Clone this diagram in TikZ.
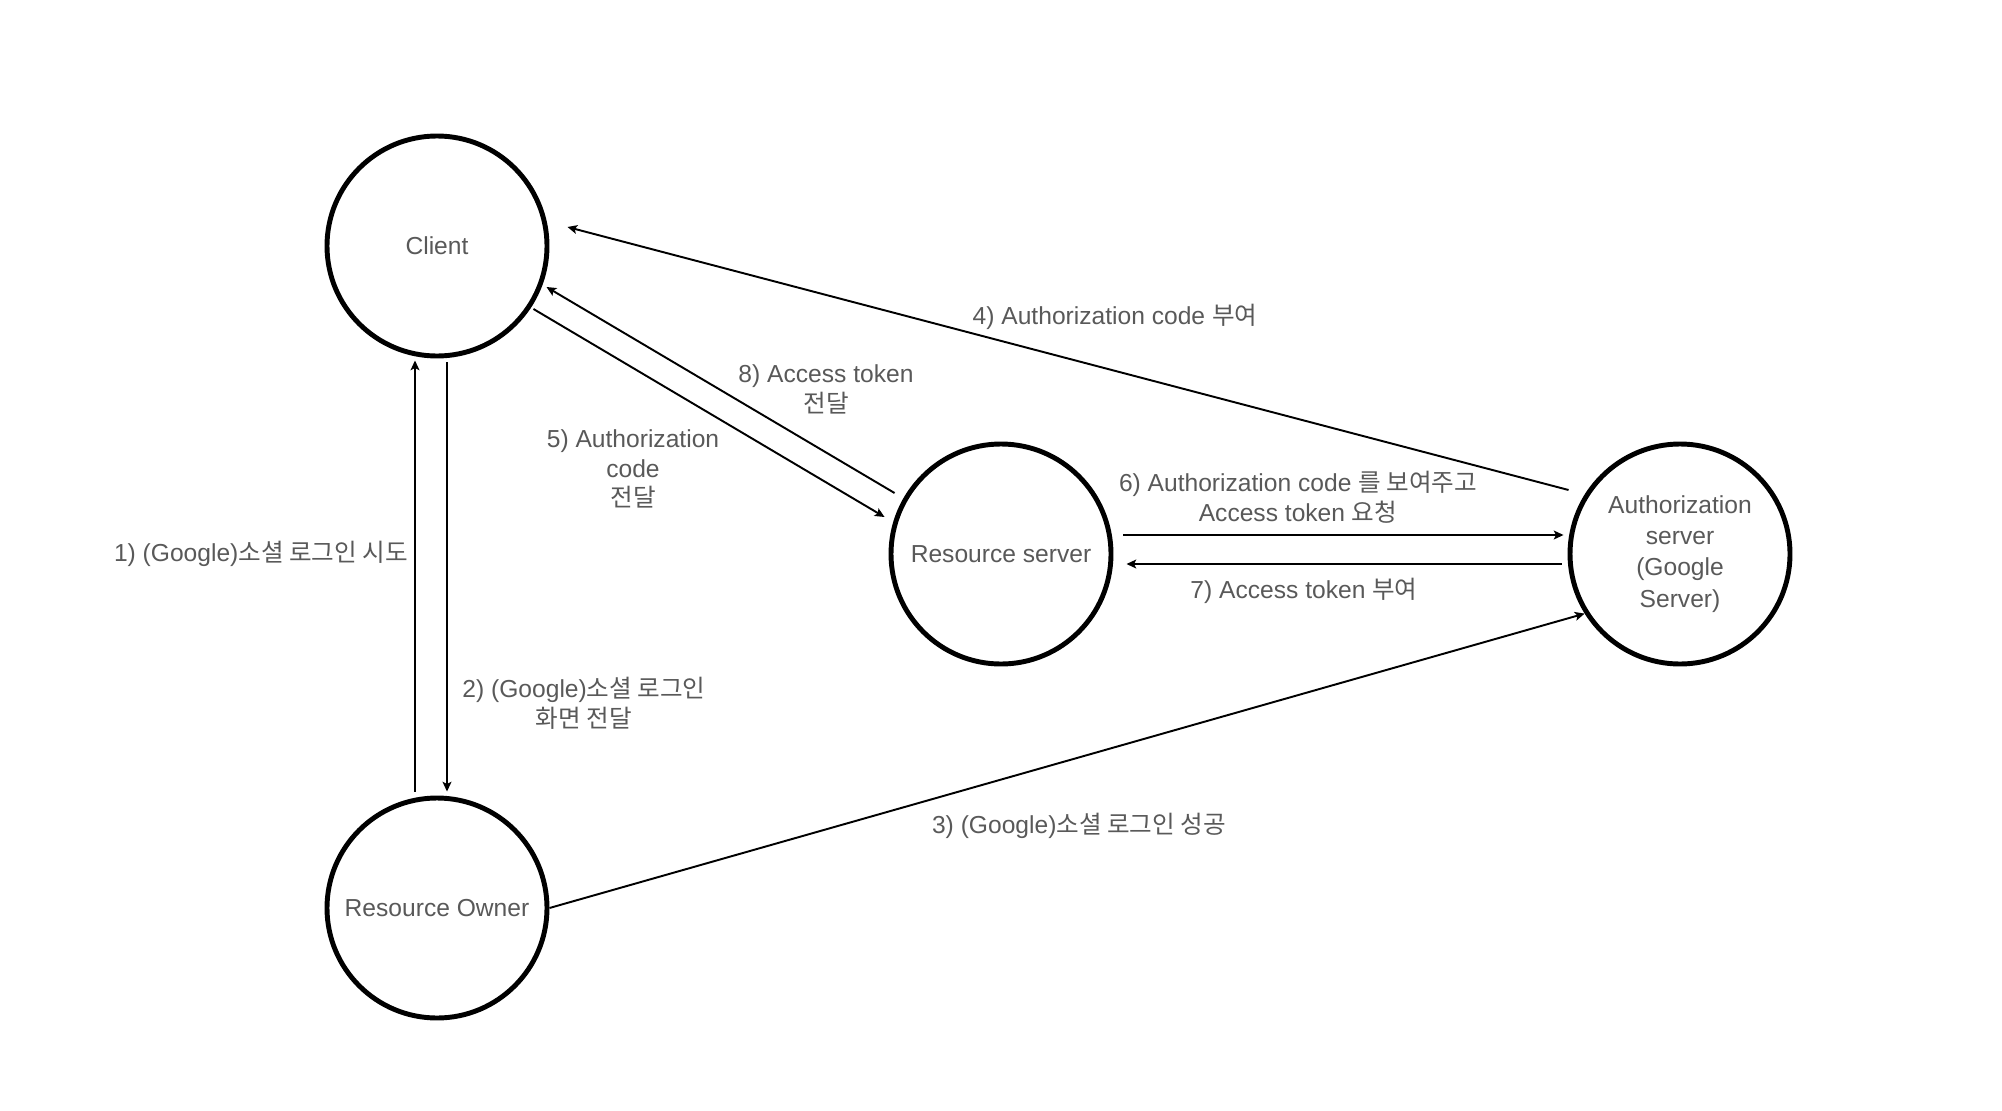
\documentclass[tikz,border=0pt]{standalone}
\usepackage{fontspec}
\setmainfont{Liberation Sans}
\newfontfamily\kr{Noto Sans CJK KR}
\usetikzlibrary{positioning,arrows.meta}

\begin{document}
\begin{tikzpicture}[
  x=0.2mm, y=-0.2mm,
  font=\fontsize{14}{17}\selectfont,
  actor/.style={circle, draw=black, line width=2.8pt, minimum size=4.4cm, inner sep=0pt,
                text=black!65, align=center},
  lbl/.style={text=black!65, align=center, inner sep=1pt},
  arr/.style={-{Stealth[length=5.5pt, width=5pt, inset=1.2pt]}, draw=black, line width=1.1pt}
]
\useasboundingbox (0,0) rectangle (2002,1110);

\node[actor] (client) at (437,246) {Client};
\node[actor] (owner)  at (437,908) {Resource Owner};
\node[actor] (rs)     at (1001,554) {Resource server};
\node[actor, font=\fontsize{14}{17.8}\selectfont] (auth) at (1680,554)
  {\raisebox{-6pt}{\begin{tabular}{@{}c@{}}Authorization\\server\\(Google\\Server)\end{tabular}}};

% owner <-> client
\draw[arr] ([shift={(-22,-4)}]owner.north) -- ([shift={(-22,2)}]client.south);
\draw[arr] ([shift={(10,4)}]client.south) -- ([shift={(10,-4)}]owner.north);
\node[lbl, anchor=east] (l1) at (410,554) {1) (Google){\kr 소셜 로그인 시도}};
\node[lbl] (l2) at (584,703) {2) (Google){\kr 소셜 로그인}\\{\kr 화면 전달}};

% owner -> auth
\draw[arr] (owner.east) -- (auth.212);
\node[lbl] (l3) at (1079,826) {3) (Google){\kr 소셜 로그인 성공}};

% auth -> client
\draw[arr] ([shift={(1,-64)}]auth.west) -- ([shift={(18,-19)}]client.east);
\node[lbl] (l4) at (1115,317) {4) Authorization code {\kr 부여}};

% client <-> resource server
\draw[arr] ([shift={(-16,63)}]client.east) -- ([shift={(-4,-37)}]rs.west);
\draw[arr] ([shift={(6,-61)}]rs.west) -- ([shift={(-3,41)}]client.east);
\node[lbl] (l5) at (633,469) {5) Authorization\\code\\{\kr 전달}};
\node[lbl] (l8) at (826,389) {8) Access token\\{\kr 전달}};

% resource server <-> auth
\draw[arr] ([shift={(10,-19)}]rs.east) -- ([shift={(-4,-19)}]auth.west);
\draw[arr] ([shift={(-6,10)}]auth.west) -- ([shift={(13,10)}]rs.east);
\node[lbl] (l6) at (1298,497) {6) Authorization code {\kr 를 보여주고}\\Access token {\kr 요청}};
\node[lbl] (l7) at (1304,591) {7) Access token {\kr 부여}};
\end{tikzpicture}
\end{document}
